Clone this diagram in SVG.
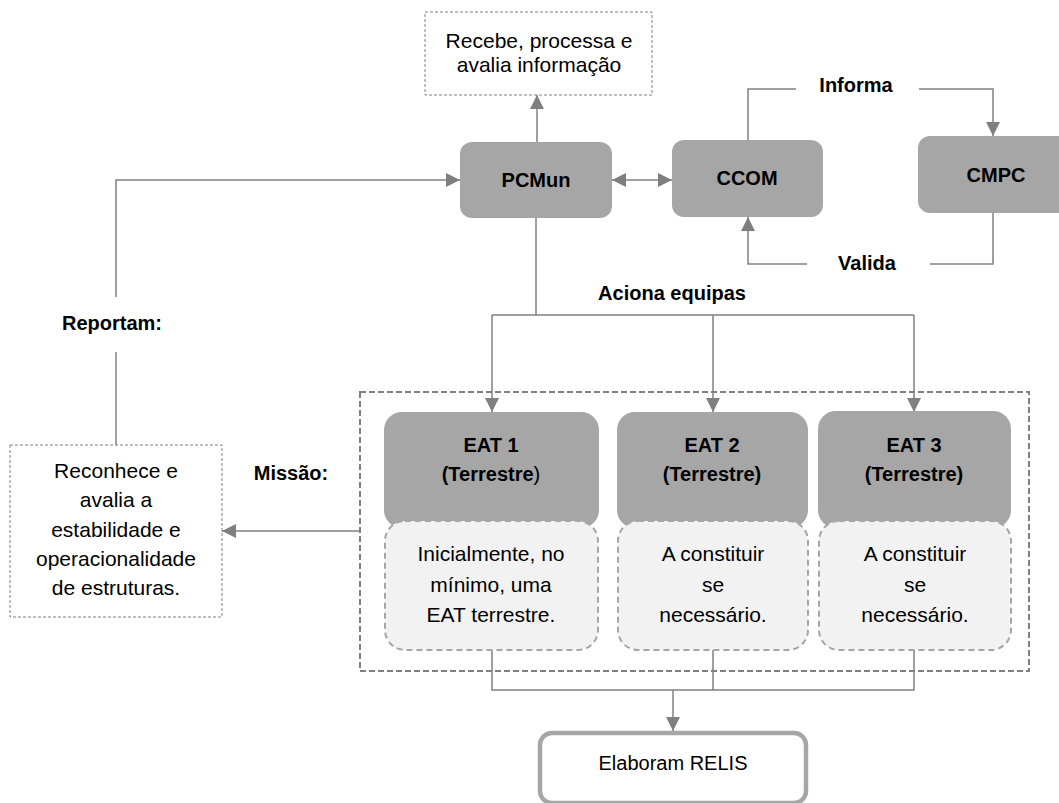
<svg xmlns="http://www.w3.org/2000/svg" width="1059" height="803" viewBox="0 0 1059 803">
<style>
text{font-family:"Liberation Sans",Arial,sans-serif;fill:#000;text-anchor:middle}
.b{font-weight:bold;font-size:20px}
.r{font-size:21px}
.gray{fill:#a6a6a6;stroke:none}
.note{fill:#fff;stroke:#808080;stroke-width:1;stroke-dasharray:3 2}
.sub{fill:#f2f2f2;stroke:#a6a6a6;stroke-width:2;stroke-dasharray:6 4}
.ln{fill:none;stroke:#808080;stroke-width:1.5}
</style>
<defs>
<marker id="ah" viewBox="0 0 14 14" refX="14" refY="7" markerWidth="14" markerHeight="14" markerUnits="userSpaceOnUse" orient="auto-start-reverse">
<path d="M0,0 L14,7 L0,14 Z" fill="#7f7f7f"/>
</marker>
</defs>

<g id="container">
<rect x="360" y="392" width="669" height="279" fill="none" stroke="#808080" stroke-width="2" stroke-dasharray="6 3"/>
</g>

<g id="connectors">
<path class="ln" d="M537,142 V95" marker-end="url(#ah)"/>
<path class="ln" d="M612,180 H672" marker-start="url(#ah)" marker-end="url(#ah)"/>
<path class="ln" d="M748,140 V89 H796"/>
<path class="ln" d="M919,89 H993 V136" marker-end="url(#ah)"/>
<path class="ln" d="M993,213 V264 H930"/>
<path class="ln" d="M807,264 H748 V217" marker-end="url(#ah)"/>
<path class="ln" d="M116,445 V352"/>
<path class="ln" d="M116,297 V180 H460" marker-end="url(#ah)"/>
<path class="ln" d="M536,218 V315"/>
<path class="ln" d="M492,315 H914"/>
<path class="ln" d="M492,315 V412" marker-end="url(#ah)"/>
<path class="ln" d="M713,315 V412" marker-end="url(#ah)"/>
<path class="ln" d="M914,315 V412" marker-end="url(#ah)"/>
<path class="ln" d="M360,531 H222" marker-end="url(#ah)"/>
<path class="ln" d="M492,650 V690 H914 V650"/>
<path class="ln" d="M713,650 V690"/>
<path class="ln" d="M673,690 V731" marker-end="url(#ah)"/>
</g>

<g id="labels">
<text class="b" x="856" y="92">Informa</text>
<text class="b" x="867" y="270">Valida</text>
<text class="b" x="112" y="330">Reportam:</text>
<text class="b" x="291" y="480">Missão:</text>
<text class="b" x="672" y="300">Aciona equipas</text>
</g>

<g id="recebe">
<rect class="note" x="425" y="12" width="227" height="83"/>
<text class="r" x="539" y="48">Recebe, processa e</text>
<text class="r" x="539" y="72">avalia informação</text>
</g>

<g id="pcmun">
<rect class="gray" x="460" y="142" width="152" height="76" rx="12"/>
<text class="b" x="536" y="187">PCMun</text>
</g>

<g id="ccom">
<rect class="gray" x="672" y="140" width="151" height="77" rx="12"/>
<text class="b" x="747" y="185">CCOM</text>
</g>

<g id="cmpc">
<rect class="gray" x="918" y="136" width="156" height="77" rx="12"/>
<text class="b" x="996" y="182">CMPC</text>
</g>

<g id="reconhece">
<rect class="note" x="10" y="445" width="212" height="172"/>
<text class="r" x="116" y="478">Reconhece e</text>
<text class="r" x="116" y="507">avalia a</text>
<text class="r" x="116" y="537">estabilidade e</text>
<text class="r" x="116" y="566">operacionalidade</text>
<text class="r" x="116" y="595">de estruturas.</text>
</g>

<g id="eat1">
<rect class="gray" x="384" y="412" width="215" height="116" rx="18"/>
<text class="b" x="491" y="452">EAT 1</text>
<text class="b" x="491" y="481">(Terrestre<tspan font-weight="normal">)</tspan></text>
</g>
<g id="eat1-note">
<rect class="sub" x="385" y="521" width="213" height="129" rx="20"/>
<text class="r" x="491" y="561">Inicialmente, no</text>
<text class="r" x="491" y="592">mínimo, uma</text>
<text class="r" x="491" y="622">EAT terrestre.</text>
</g>

<g id="eat2">
<rect class="gray" x="617" y="412" width="191" height="116" rx="18"/>
<text class="b" x="712" y="452">EAT 2</text>
<text class="b" x="712" y="481">(Terrestre)</text>
</g>
<g id="eat2-note">
<rect class="sub" x="618" y="521" width="190" height="129" rx="20"/>
<text class="r" x="713" y="561">A constituir</text>
<text class="r" x="713" y="592">se</text>
<text class="r" x="713" y="622">necessário.</text>
</g>

<g id="eat3">
<rect class="gray" x="818" y="411" width="193" height="117" rx="18"/>
<text class="b" x="914" y="452">EAT 3</text>
<text class="b" x="914" y="481">(Terrestre)</text>
</g>
<g id="eat3-note">
<rect class="sub" x="819" y="521" width="192" height="129" rx="20"/>
<text class="r" x="915" y="561">A constituir</text>
<text class="r" x="915" y="592">se</text>
<text class="r" x="915" y="622">necessário.</text>
</g>

<g id="relis">
<rect x="540" y="733" width="266" height="70" rx="12" fill="#fff" stroke="#a6a6a6" stroke-width="4.5"/>
<text x="673" y="770" style="font-size:20px">Elaboram RELIS</text>
</g>
</svg>
